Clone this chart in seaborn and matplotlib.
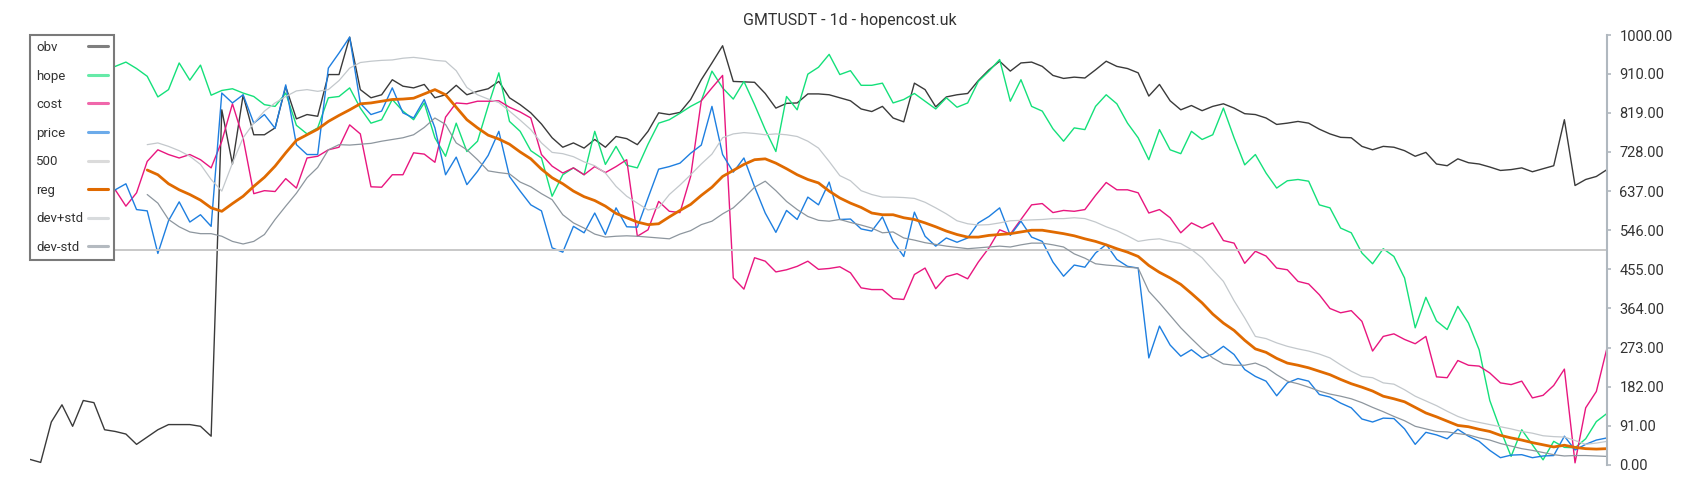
import numpy as np
import seaborn as sns
import matplotlib.pyplot as plt

# daily candles, sampled every other day
obv = [13, 6, 100, 140, 90, 150, 145, 82, 78, 72,
       48, 65, 82, 94, 94, 94, 90, 67, 826, 700,
       860, 768, 768, 784, 880, 805, 815, 811, 908, 908,
       995, 873, 854, 861, 896, 881, 877, 885, 854, 861,
       883, 861, 869, 875, 892, 854, 838, 819, 793, 761,
       739, 749, 737, 757, 739, 764, 759, 745, 776, 819,
       815, 820, 850, 896, 935, 975, 892, 891, 890, 864,
       830, 841, 842, 863, 863, 861, 854, 847, 828, 822,
       834, 807, 798, 888, 873, 833, 856, 861, 864, 894,
       919, 939, 916, 935, 937, 927, 906, 899, 902, 900,
       919, 939, 927, 922, 912, 858, 885, 847, 826, 836,
       824, 834, 840, 830, 817, 815, 807, 792, 795, 799,
       795, 781, 770, 762, 761, 741, 733, 741, 739, 731,
       718, 727, 700, 696, 712, 703, 700, 693, 685, 687,
       691, 682, 689, 696, 803, 650, 664, 671, 687]

hope = [930, 950, 960, 975, 985, 995, 960, 925, 927, 937,
        922, 904, 856, 873, 935, 895, 930, 860, 871, 875,
        865, 857, 838, 834, 865, 790, 770, 784, 854, 857,
        877, 830, 795, 803, 850, 823, 803, 842, 761, 718,
        795, 729, 753, 835, 912, 799, 776, 731, 714, 625,
        675, 691, 675, 776, 699, 741, 697, 691, 746, 795,
        803, 818, 834, 847, 916, 877, 851, 892, 838, 780,
        729, 857, 826, 909, 925, 955, 908, 917, 883, 883,
        888, 842, 850, 864, 846, 828, 854, 832, 842, 892,
        916, 943, 846, 896, 834, 823, 782, 753, 784, 780,
        834, 861, 840, 795, 761, 710, 780, 733, 724, 776,
        757, 768, 830, 761, 698, 722, 679, 644, 661, 664,
        660, 605, 598, 551, 540, 493, 468, 503, 485, 435,
        319, 390, 335, 315, 369, 330, 268, 150, 82, 20,
        82, 47, 12, 55, 41, 40, 61, 101, 120]

cost = [590, 610, 600, 580, 620, 600, 610, 600, 640, 602,
        633, 706, 733, 722, 714, 722, 710, 691, 753, 840,
        760, 631, 638, 636, 666, 644, 714, 718, 733, 739,
        791, 770, 647, 646, 675, 675, 726, 723, 704, 809,
        842, 840, 846, 846, 847, 832, 821, 807, 722, 695,
        679, 691, 675, 694, 680, 694, 710, 532, 547, 613,
        590, 587, 671, 847, 877, 906, 435, 409, 482, 474,
        449, 454, 462, 474, 455, 457, 461, 447, 412, 408,
        408, 387, 385, 443, 458, 410, 438, 445, 433, 472,
        505, 547, 537, 571, 605, 608, 587, 592, 590, 594,
        627, 657, 640, 640, 633, 586, 594, 575, 540, 563,
        551, 563, 522, 516, 469, 497, 486, 458, 454, 427,
        421, 396, 364, 354, 359, 334, 265, 299, 305, 292,
        282, 299, 205, 203, 243, 232, 230, 214, 191, 187,
        195, 156, 162, 185, 223, 5, 133, 171, 272]

price = [600, 620, 580, 640, 610, 630, 600, 640, 640, 654,
         594, 591, 492, 568, 612, 565, 582, 555, 865, 842,
         861, 795, 815, 783, 884, 745, 722, 722, 923, 958,
         995, 841, 815, 823, 877, 819, 807, 850, 784, 675,
         716, 652, 683, 720, 776, 671, 637, 605, 591, 505,
         495, 555, 540, 586, 536, 598, 554, 553, 621, 688,
         694, 702, 725, 744, 834, 722, 681, 714, 647, 586,
         541, 592, 571, 623, 605, 658, 571, 572, 549, 544,
         577, 520, 485, 588, 532, 509, 528, 518, 528, 563,
         578, 598, 534, 567, 530, 520, 472, 439, 465, 460,
         493, 513, 478, 462, 458, 249, 323, 279, 253, 268,
         249, 258, 276, 257, 222, 206, 195, 161, 191, 201,
         195, 164, 158, 144, 133, 107, 100, 109, 108, 84,
         48, 76, 70, 61, 83, 67, 55, 34, 17, 23,
         24, 17, 21, 22, 67, 35, 48, 58, 63]

# regression band starts after the warm-up window
reg_start = 11
reg = [686, 675, 654, 640, 629, 616, 598, 590, 608,
       625, 648, 669, 695, 726, 755, 768, 781, 799, 813,
       826, 840, 842, 846, 850, 851, 853, 863, 873, 861,
       832, 803, 784, 767, 758, 746, 728, 712, 688, 668,
       654, 637, 624, 615, 602, 585, 575, 565, 559, 561,
       577, 592, 606, 627, 646, 671, 685, 699, 710, 712,
       702, 689, 675, 664, 656, 637, 621, 609, 599, 586,
       582, 582, 575, 571, 563, 554, 544, 536, 530, 530,
       534, 536, 538, 542, 546, 546, 542, 538, 533, 526,
       520, 512, 503, 495, 485, 464, 448, 435, 420, 399,
       377, 351, 330, 313, 290, 270, 262, 248, 237, 232,
       226, 218, 210, 199, 189, 181, 172, 160, 154, 147,
       134, 121, 112, 102, 92, 89, 83, 78, 69, 63,
       58, 52, 47, 42, 46, 41, 38, 37, 38]

dev_plus = [745, 749, 741, 731, 718, 699, 664, 637, 702,
            761, 795, 823, 842, 857, 870, 873, 869, 873, 894,
            923, 936, 939, 941, 942, 946, 948, 945, 941, 939,
            917, 878, 861, 851, 843, 823, 802, 780, 749, 727,
            724, 717, 705, 696, 679, 648, 625, 609, 593, 598,
            629, 651, 675, 700, 723, 761, 770, 773, 771, 768,
            770, 768, 764, 753, 737, 706, 673, 661, 638, 629,
            623, 623, 622, 620, 611, 598, 584, 568, 561, 558,
            559, 563, 568, 569, 570, 571, 573, 573, 575, 573,
            565, 554, 545, 533, 520, 524, 526, 520, 515, 501,
            482, 454, 427, 382, 342, 299, 294, 284, 276, 270,
            265, 258, 249, 233, 218, 206, 203, 191, 188, 175,
            160, 149, 138, 125, 113, 104, 99, 94, 89, 84,
            78, 74, 68, 66, 65, 57, 48, 51, 55]

dev_minus = [629, 609, 571, 554, 542, 538, 538, 532, 520,
             514, 520, 536, 571, 602, 632, 668, 692, 733, 745,
             744, 746, 748, 753, 757, 761, 768, 785, 807, 792,
             749, 733, 710, 684, 680, 677, 658, 647, 631, 617,
             582, 563, 551, 537, 530, 532, 533, 532, 530, 528,
             526, 537, 545, 559, 567, 584, 598, 621, 646, 660,
             638, 613, 594, 578, 569, 567, 571, 564, 558, 551,
             540, 542, 528, 523, 517, 513, 509, 506, 503, 505,
             507, 509, 507, 512, 516, 516, 512, 507, 491, 481,
             468, 465, 463, 460, 458, 404, 377, 348, 319, 294,
             270, 249, 235, 232, 232, 237, 227, 210, 195, 189,
             181, 172, 165, 160, 154, 145, 134, 124, 113, 103,
             90, 84, 78, 77, 73, 70, 63, 58, 50, 44,
             38, 34, 29, 24, 21, 22, 22, 21, 20]

level = 500
y_ticks = [0, 91, 182, 273, 364, 455, 546, 637, 728, 819, 910, 1000]

days = np.arange(len(obv))
reg_days = days[reg_start:]
level_line = [level] * len(days)

sns.set_theme(style="white")
plt.rcParams['font.family'] = ['Roboto', 'DejaVu Sans']

fig = plt.figure(figsize=(17, 5), dpi=100)
ax = fig.add_axes([30 / 1700, 35 / 500, 1577 / 1700, 430 / 500])

series = [
    ("obv", days, obv, "#3a3a3a", 1.0),
    ("hope", days, hope, "#14e07a", 1.0),
    ("cost", days, cost, "#e8167f", 1.0),
    ("price", days, price, "#1e7fe0", 1.0),
    ("500", days, level_line, "#c8c8c8", 1.4),
    ("reg", reg_days, reg, "#e06a00", 2.0),
    ("dev+std", reg_days, dev_plus, "#c3c8cc", 0.9),
    ("dev-std", reg_days, dev_minus, "#8d969e", 0.9),
]
for name, xs, ys, col, lw in series:
    sns.lineplot(x=xs, y=ys, ax=ax, color=col, linewidth=lw, label=name)

ax.set_xlim(0, len(days) - 1)
ax.set_ylim(0, 1000)
ax.set_xticks([])
ax.yaxis.tick_right()
ax.set_yticks(y_ticks)
ax.set_yticklabels([f"{v:.2f}" for v in y_ticks])
ax.tick_params(axis='y', length=3, width=1.2, color="#b0b8bf", pad=6,
               labelsize=10.5, labelcolor="#333333")
for side in ['left', 'top', 'bottom']:
    ax.spines[side].set_visible(False)
ax.spines['right'].set_color("#b0b8bf")
ax.spines['right'].set_linewidth(1.5)
ax.set_xlabel("")
ax.set_ylabel("")

leg_fs = 9.5
text_pad = 0.4
leg = ax.legend(loc='upper left', bbox_to_anchor=(0, 1), borderaxespad=0,
                markerfirst=False, fancybox=False, framealpha=1,
                edgecolor="#7a7a7a", fontsize=leg_fs, labelspacing=1.18,
                handlelength=1.5, handletextpad=text_pad, borderpad=0.45)
leg.get_frame().set_linewidth(1.5)
leg.set_zorder(10)
for t in leg.get_texts():
    t.set_color("#333333")
for h in leg.legend_handles:
    h.set_linewidth(2.2)
    if h.get_label() != "reg":
        h.set_alpha(0.65)

# left-align the labels and push every legend line to the right edge
fig.canvas.draw()
renderer = fig.canvas.get_renderer()
widths = [t.get_window_extent(renderer).width for t in leg.get_texts()]
max_w = max(widths)
k = 0
for col in leg._legend_handle_box.get_children():
    col.align = "left"
    for item in col.get_children():
        item.sep = text_pad * leg_fs + (max_w - widths[k]) * 72 / fig.dpi
        k += 1

fig.text(0.5, 1 - 20 / 500, "GMTUSDT - 1d - hopencost.uk", ha='center',
         va='center', fontsize=11.5, color="#333333")

fig.savefig("out.png", dpi=100)
